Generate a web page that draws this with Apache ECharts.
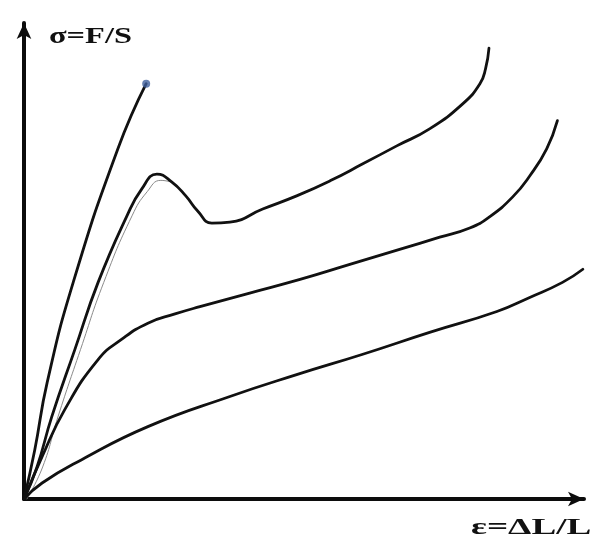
<!DOCTYPE html>
<html>
<head>
<meta charset="utf-8">
<script src="https://cdn.jsdelivr.net/npm/echarts@6/dist/echarts.min.js"></script>
<style>
  html, body { margin: 0; padding: 0; background: #ffffff; }
  #chart { width: 598px; height: 540px; }
</style>
</head>
<body>
<div id="chart"></div>
<script>
// Stress–strain curves (relative units): strain ε on x, stress σ on y.
// Brittle material: nearly linear up to fracture.
var brittle = [[0, 0], [1.9, 10.1], [4.1, 24.0], [8.7, 44.6], [16.6, 72.1], [21.6, 85.5]];

// Material with a yield point (upper yield peak, drop, then hardening).
var yieldCurve = [[0, 0], [2.3, 6.6], [4.9, 16.9], [9.0, 30.8], [13.1, 44.6], [18.2, 58.3],
  [20.8, 63.8], [23.5, 66.9], [26.1, 65.3], [28.6, 62.4], [30.7, 59.3], [33.2, 56.8],
  [36.4, 57.0], [42.2, 59.7], [48.2, 62.4], [54.1, 65.5], [59.9, 69.0], [65.9, 72.7],
  [71.7, 76.2], [77.6, 81.4], [80.6, 85.5], [81.6, 88.6], [82.2, 92.8]];

// Faint second trace along the loading branch of the yield curve.
var yieldTrace = [[0.5, 0], [3.3, 6.6], [6.0, 16.9], [10.0, 30.8], [14.1, 44.6], [19.1, 58.3],
  [21.8, 63.3], [24.2, 65.6], [26.3, 65.2]];

// Ductile material without a distinct yield point.
var ductile = [[0, 0], [3.2, 8.7], [7.2, 18.4], [13.1, 28.7], [17.3, 32.9], [21.9, 36.2],
  [26.7, 38.1], [31.1, 39.6], [39.9, 42.4], [48.8, 45.2], [57.6, 48.3], [66.4, 51.4],
  [73.5, 53.9], [78.8, 55.8], [82.3, 58.1], [86.4, 62.2], [89.4, 66.5], [92.4, 72.1],
  [94.3, 77.9]];

// Soft material: low, gradually rising curve.
var soft = [[0, 0], [3.2, 3.3], [10.2, 8.1], [21.9, 14.9], [36.4, 21.1], [48.2, 25.6],
  [59.9, 29.8], [71.7, 34.3], [83.6, 38.6], [89.4, 41.5], [95.2, 44.6], [98.8, 47.3]];

var xLabel = 'ε=ΔL/L';
var yLabel = 'σ=F/S';

var chart = echarts.init(document.getElementById('chart'), null, { renderer: 'canvas' });

function curve(data, width, color) {
  return {
    type: 'line',
    data: data,
    smooth: 0.5,
    showSymbol: false,
    silent: true,
    lineStyle: { color: color, width: width, cap: 'round', join: 'round' },
    z: 3
  };
}

var axisLine = {
  show: true,
  onZero: false,
  symbol: ['none', 'arrow'],
  symbolSize: [11, 16],
  lineStyle: { color: '#0c0c0c', width: 4 }
};

var labelFont = 'bold 24px "Liberation Serif", "DejaVu Serif", serif';

chart.setOption({
  backgroundColor: '#ffffff',
  animation: false,
  grid: { left: 24, top: 23, right: 14, bottom: 41 },
  xAxis: {
    type: 'value', min: 0, max: 99,
    axisLine: axisLine,
    axisTick: { show: false }, axisLabel: { show: false }, splitLine: { show: false }
  },
  yAxis: {
    type: 'value', min: 0, max: 98,
    axisLine: axisLine,
    axisTick: { show: false }, axisLabel: { show: false }, splitLine: { show: false }
  },
  series: [
    curve(yieldTrace, 1, '#8a8a8a'),
    curve(brittle, 2.8, '#111111'),
    curve(yieldCurve, 2.8, '#111111'),
    curve(ductile, 2.8, '#111111'),
    curve(soft, 2.8, '#111111'),
    {
      // fracture point of the brittle curve
      type: 'scatter',
      data: [brittle[brittle.length - 1]],
      symbol: 'circle',
      symbolSize: 8,
      silent: true,
      itemStyle: { color: '#3f5f9c' },
      z: 4
    }
  ],
  graphic: [
    {
      type: 'text', x: 49, y: 25, scaleX: 1.35,
      style: { text: yLabel, fill: '#111111', font: labelFont, textVerticalAlign: 'top' }
    },
    {
      type: 'text', x: 471, y: 516, scaleX: 1.55,
      style: { text: xLabel, fill: '#111111', font: labelFont, textVerticalAlign: 'top' }
    }
  ]
});
</script>
</body>
</html>
